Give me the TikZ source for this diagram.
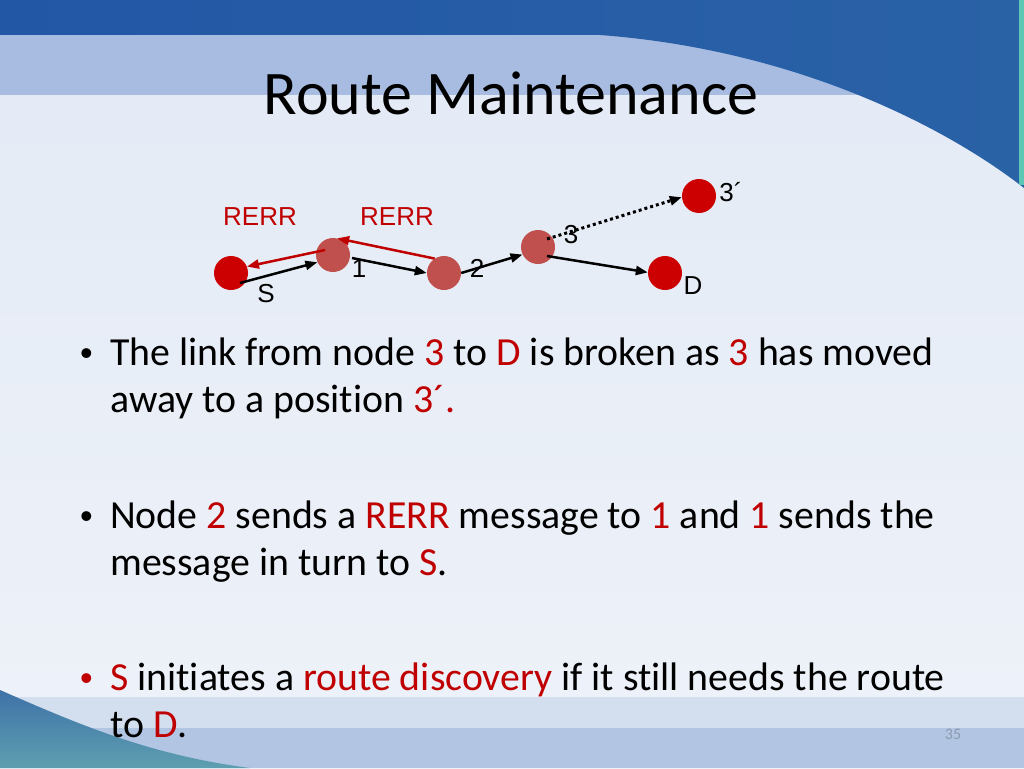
\documentclass[tikz,border=0pt]{standalone}
\usepackage{fontspec}
\setmainfont{Carlito}[Ligatures={NoCommon}]
\newfontfamily\arialf{Liberation Sans}
\usetikzlibrary{arrows.meta,calc}
\definecolor{bgtop}{HTML}{E3EAF5}
\definecolor{bgbot}{HTML}{EEF2F9}
\definecolor{darkblueL}{HTML}{2257A6}
\definecolor{darkblueR}{HTML}{2A62A6}
\definecolor{bandblue}{HTML}{A7BCE0}
\definecolor{bandlow}{HTML}{D3DEEE}
\definecolor{bandlow2}{HTML}{B2C6E3}
\definecolor{wedgeblue}{HTML}{3E72A8}
\definecolor{wedgeteal}{HTML}{5E9FB0}
\definecolor{tealline}{HTML}{5CC8B4}
\definecolor{redtxt}{HTML}{C00000}
\definecolor{nodered}{HTML}{CC0000}
\definecolor{nodepink}{HTML}{C0504D}
\definecolor{pagegray}{HTML}{8C9AAE}
\newcommand{\rd}[1]{\textcolor{redtxt}{#1}}
\tikzset{
  dot/.style={circle,minimum size=34pt,inner sep=0pt,fill=#1},
  lbl/.style={font=\arialf\fontsize{26}{26}\selectfont,inner sep=0pt},
  rlbl/.style={lbl,text=redtxt},
  body/.style={anchor=base west,inner sep=0pt,font=\fontsize{39.8}{47.5}\selectfont},
  bul/.style={anchor=base west,inner sep=0pt,font=\arialf\fontsize{36}{36}\selectfont},
  fwd/.style={line width=2.5pt,black,-{Triangle[length=12pt,width=9pt]}},
  back/.style={line width=2.5pt,redtxt,-{Triangle[length=12pt,width=9pt]}},
  moved/.style={line width=3pt,black,dash pattern=on 3pt off 3pt,-{Triangle[length=12pt,width=9pt]}}
}
\begin{document}
\begin{tikzpicture}[x=1pt,y=-1pt]
\useasboundingbox (0,0) rectangle (1024,768);
% background
\shade[top color=bgtop,bottom color=bgbot] (0,0) rectangle (1024,768);
\fill[bandblue] (0,35) rectangle (1024,95);
\shade[left color=darkblueL,right color=darkblueR]
  (0,0) -- (1024,0) -- (1024,188) .. controls (950,130) and (800,50) .. (600,35) -- (0,35) -- cycle;
\fill[tealline] (1019,0) rectangle (1024,185);
\fill[bandlow] (0,697) rectangle (1024,728);
\fill[bandlow2] (0,728) rectangle (1024,768);
\shade[top color=wedgeblue,bottom color=wedgeteal]
  (0,690) .. controls (80,725) and (150,755) .. (250,768) -- (0,768) -- cycle;
% title
\node[inner sep=0pt,anchor=base,font=\fontsize{62}{62}\selectfont] (title) at (511,114) {Route Maintenance};
% diagram nodes
\node[dot=nodered] (S) at (231,273) {};
\node[dot=nodepink] (n1) at (333,255) {};
\node[dot=nodepink] (n2) at (444,273) {};
\node[dot=nodepink] (n3) at (538,247) {};
\node[dot=nodered] (D) at (665,273) {};
\node[dot=nodered] (n3p) at (699,196) {};
% connectors
\draw[fwd] ($(S.center)+(9,10)$) -- (n1.205);
\draw[fwd] ($(n1.center)+(19,3)$) -- (n2.180);
\draw[fwd] (n2.0) -- (n3.206);
\draw[fwd] ($(n3.center)+(9,9)$) -- (D.178);
\draw[moved] ($(n3.center)+(9,-8)$) -- (n3p.184);
\draw[back] ($(n1.center)+(-8,-5)$) -- (S.22);
\draw[back] (n2.123) -- (n1.76);
% labels
\node[lbl] (lS) at (266,294) {S};
\node[lbl] (l1) at (359,269) {1};
\node[lbl] (l2) at (477,268) {2};
\node[lbl] (l3) at (571,235) {3};
\node[lbl] (lD) at (693,286) {D};
\node[lbl] (l3p) at (731,192) {3´};
\node[rlbl] (rerr1) at (260,217) {RERR};
\node[rlbl] (rerr2) at (397,217) {RERR};
% bullets
\node[bul] (b1) at (80,365) {•};
\node[bul] (b2) at (80,528) {•};
\node[bul,text=redtxt] (b3) at (80,690) {•};
\node[body] (t1) at (110,365) {The link from node \rd{3} to \rd{D} is broken as \rd{3} has moved};
\node[body] (t2) at (110,412) {away to a position \rd{3´.}};
\node[body] (t3) at (110,528) {Node \rd{2} sends a \rd{RERR} message to \rd{1} and \rd{1} sends the};
\node[body] (t4) at (110,575) {message in turn to \rd{S}.};
\node[body] (t5) at (110,690) {\rd{S} initiates a \rd{route discovery} if it still needs the route};
\node[body] (t6) at (110,737) {to \rd{D}.};
% page number
\node[anchor=base,inner sep=0pt,text=pagegray,font=\fontsize{16}{16}\selectfont] (pg) at (953,739) {35};
\end{tikzpicture}
\end{document}
